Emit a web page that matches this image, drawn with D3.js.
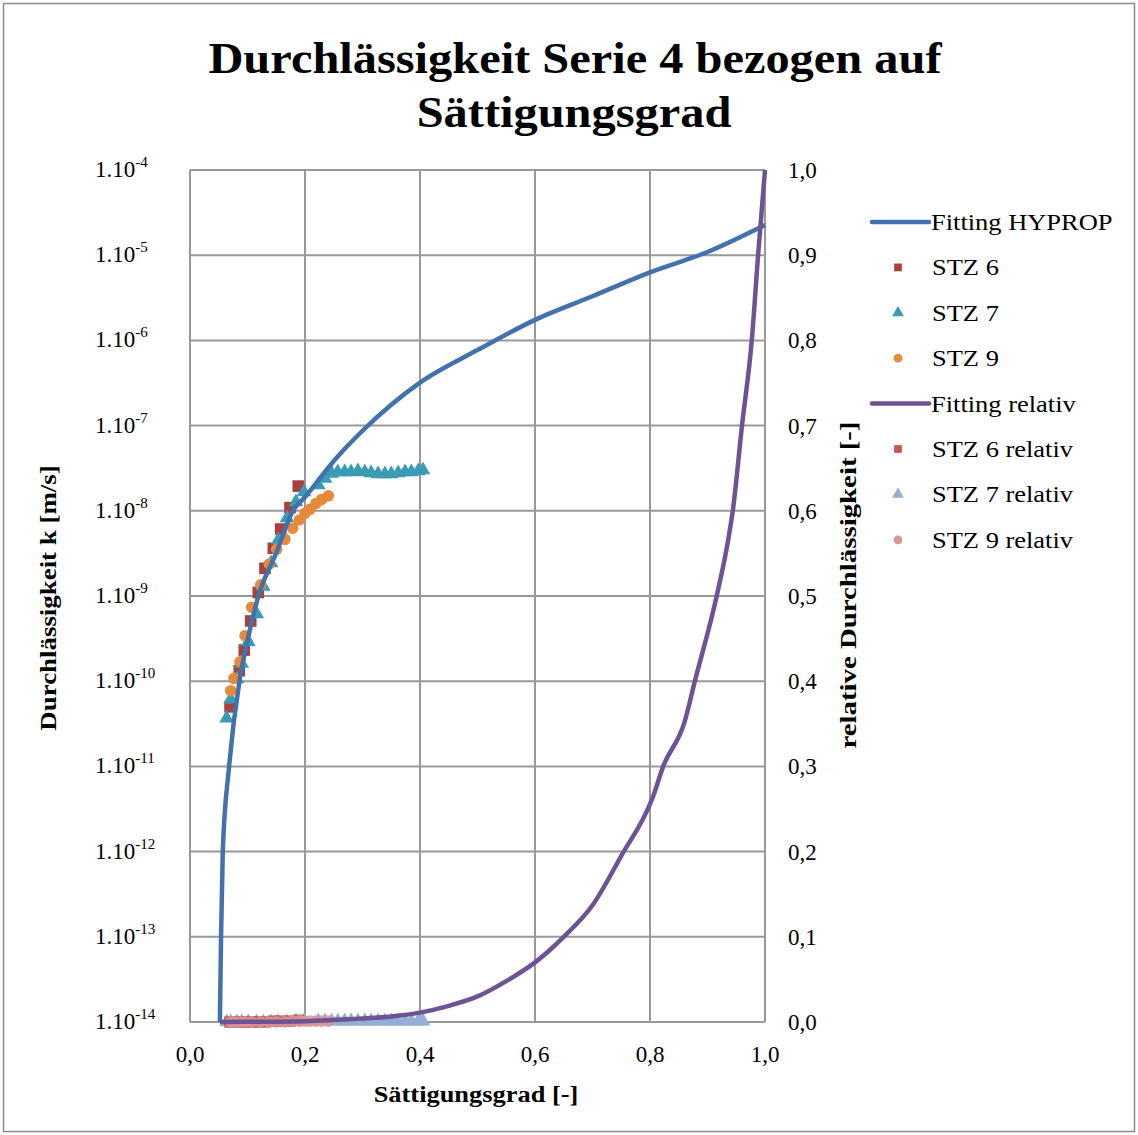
<!DOCTYPE html>
<html>
<head>
<meta charset="utf-8">
<script src="https://cdnjs.cloudflare.com/ajax/libs/d3/7.8.5/d3.min.js"></script>
<style>
  body { margin: 0; background: #fff }
  text { font-family: 'Liberation Serif', 'Times New Roman', serif; fill: #000 }
</style>
</head>
<body>
<svg width="1138" height="1135"></svg>
<script>
// Saettigungsgrad (x) und Durchlaessigkeit k (linke Achse, log)
const hypropS = [0.052, 0.054, 0.057, 0.068, 0.086, 0.1, 0.119, 0.15, 0.179, 0.2, 0.252, 0.3, 0.4, 0.5, 0.6, 0.7, 0.8, 0.9, 1.0]
const hypropK = [1e-14, 1e-13, 1e-12, 1e-11, 1e-10, 3.0e-10, 1e-9, 3.2e-9, 1e-8, 1.45e-8, 3.98e-8, 8.7e-8, 3.2e-7, 7.7e-7, 1.74e-6, 3.3e-6, 6.3e-6, 1.09e-5, 2.26e-5]

const stz6S = [0.0696, 0.0857, 0.0944, 0.1056, 0.1188, 0.1304, 0.1449, 0.1577, 0.1739, 0.1883]
const stz6K = [5.0e-11, 1.33e-10, 2.32e-10, 5.09e-10, 1.10e-9, 2.11e-9, 3.63e-9, 6.11e-9, 1.09e-8, 1.95e-8]

const stz7S = [0.0638, 0.0708, 0.0817, 0.0899, 0.1014, 0.116, 0.1275, 0.1409, 0.1536, 0.1687, 0.1843, 0.1983, 0.2231, 0.2348, 0.2464,
  0.257, 0.269, 0.280, 0.292, 0.304, 0.315, 0.327, 0.339, 0.350, 0.362, 0.374, 0.385, 0.397, 0.405]
const stz7K = [3.67e-11, 6.14e-11, 1.06e-10, 1.62e-10, 2.91e-10, 6.15e-10, 1.29e-9, 2.44e-9, 4.54e-9, 8.22e-9, 1.27e-8, 1.66e-8, 2.01e-8, 2.40e-8, 2.75e-8,
  2.85e-8, 2.85e-8, 2.85e-8, 2.93e-8, 2.85e-8, 2.78e-8, 2.70e-8, 2.70e-8, 2.70e-8, 2.78e-8, 2.85e-8, 2.85e-8, 2.93e-8, 3.01e-8]

const stz9S = [0.0708, 0.0765, 0.0870, 0.0957, 0.1073, 0.1230, 0.1379, 0.1508, 0.1652, 0.1786, 0.1901, 0.2000, 0.2087, 0.2191, 0.2290, 0.2405]
const stz9K = [7.74e-11, 1.08e-10, 1.69e-10, 3.42e-10, 7.36e-10, 1.35e-9, 2.38e-9, 3.53e-9, 4.62e-9, 6.24e-9, 7.80e-9, 9.35e-9, 1.04e-8, 1.22e-8, 1.36e-8, 1.50e-8]

// relative Durchlaessigkeit (rechte Achse)
const relS = [0.052, 0.1, 0.2, 0.3, 0.35, 0.4, 0.45, 0.5, 0.55, 0.6, 0.65, 0.7, 0.75, 0.805, 0.823, 0.86, 0.878, 0.916, 0.936, 0.944, 0.96, 0.977, 0.988, 1.0]
const relK = [0, 0.0002, 0.001, 0.004, 0.0065, 0.011, 0.019, 0.03, 0.048, 0.07, 0.1, 0.137, 0.195, 0.264, 0.3, 0.352, 0.4, 0.5, 0.566, 0.6, 0.7, 0.8, 0.9, 1.0]
const stz6Rel = [0.000, 0.000, 0.000, 0.000, 0.000, 0.000, 0.001, 0.001, 0.001, 0.002]
const stz7Rel = [0.000, 0.000, 0.000, 0.000, 0.000, 0.000, 0.000, 0.000, 0.000, 0.000, 0.001, 0.001, 0.001, 0.001, 0.001,
  0.001, 0.001, 0.001, 0.001, 0.001, 0.001, 0.001, 0.001, 0.001, 0.001, 0.001, 0.001, 0.001, 0.001]
const stz9Rel = [0.000, 0.000, 0.000, 0.000, 0.000, 0.000, 0.000, 0.000, 0.000, 0.001, 0.001, 0.001, 0.001, 0.001, 0.001, 0.001]

const xTicks = [0, 0.2, 0.4, 0.6, 0.8, 1.0]
const yExps = [-4, -5, -6, -7, -8, -9, -10, -11, -12, -13, -14]
const rTicks = [0, 0.1, 0.2, 0.3, 0.4, 0.5, 0.6, 0.7, 0.8, 0.9, 1.0]

const legendNames = ['Fitting HYPROP', 'STZ 6', 'STZ 7', 'STZ 9', 'Fitting relativ', 'STZ 6 relativ', 'STZ 7 relativ', 'STZ 9 relativ']

var col = {
  hyprop: '#4271AC', stz6: '#A8403C', stz7: '#3A9CB4', stz9: '#E5893B',
  rel: '#6B5394', stz6r: '#CB5553', stz7r: '#93AFD8', stz9r: '#DA9596'
}

let svg = d3.select('svg')
let pLeft = 190, pRight = 765, pTop = 170, pBottom = 1022

var x = d3.scaleLinear().domain([0, 1]).range([pLeft, pRight])
var y = d3.scaleLog().domain([1e-14, 1e-4]).range([pBottom, pTop])
var yr = d3.scaleLinear().domain([0, 1]).range([pBottom, pTop])

// breite strecken wie im original (schrift wirkt gedehnt)
function stretch (t, f) {
  var w = t.node().getComputedTextLength()
  t.attr('textLength', w * f).attr('lengthAdjust', 'spacingAndGlyphs')
  return t
}

// rahmen
svg.append('rect').attr('x', 3.5).attr('y', 3.5).attr('width', 1131).attr('height', 1128)
  .attr('fill', 'none').attr('stroke', '#8c8c8c').attr('stroke-width', 1.5)

// gitter
var grid = svg.append('g').attr('stroke', '#999').attr('stroke-width', 2)
grid.selectAll('.gy').data(yExps).enter().append('line')
  .attr('x1', pLeft).attr('x2', pRight)
  .attr('y1', function (d) { return y(Math.pow(10, d)) }).attr('y2', function (d) { return y(Math.pow(10, d)) })
grid.selectAll('.gx').data(xTicks).enter().append('line')
  .attr('y1', pTop).attr('y2', pBottom)
  .attr('x1', function (d) { return x(d) }).attr('x2', function (d) { return x(d) })

// linke achse beschriftung 1.10^n
var yl = svg.append('g').attr('font-size', 23)
yExps.forEach(function (e) {
  var t = yl.append('text').attr('x', 95).attr('y', y(Math.pow(10, e)) + 7)
  t.append('tspan').text('1.10')
  t.append('tspan').attr('font-size', 15).attr('dy', -10).text(String(e))
})

// rechte achse
svg.append('g').attr('font-size', 23).selectAll('text').data(rTicks).enter().append('text')
  .attr('x', 788).attr('y', function (d) { return yr(d) + 8 })
  .text(function (d) { return d3.format('.1f')(d).replace('.', ',') })

// x achse
svg.append('g').attr('font-size', 23).selectAll('text').data(xTicks).enter().append('text')
  .attr('x', function (d) { return x(d) }).attr('y', 1062).attr('text-anchor', 'middle')
  .text(function (d) { return d3.format('.1f')(d).replace('.', ',') })

// titel
var title = svg.append('g').attr('font-size', 44).attr('font-weight', 'bold').attr('text-anchor', 'middle')
stretch(title.append('text').attr('x', 575).attr('y', 73).text('Durchlässigkeit Serie 4 bezogen auf'), 1.1)
stretch(title.append('text').attr('x', 574).attr('y', 127).text('Sättigungsgrad'), 1.1)

stretch(svg.append('text').attr('x', 476).attr('y', 1102).attr('text-anchor', 'middle')
  .attr('font-size', 24).attr('font-weight', 'bold').text('Sättigungsgrad [-]'), 1.1)
stretch(svg.append('text').attr('transform', 'translate(56,598) rotate(-90)').attr('text-anchor', 'middle')
  .attr('font-size', 24).attr('font-weight', 'bold').text('Durchlässigkeit k [m/s]'), 1.12)
stretch(svg.append('text').attr('transform', 'translate(856,585) rotate(-90)').attr('text-anchor', 'middle')
  .attr('font-size', 24).attr('font-weight', 'bold').text('relative Durchlässigkeit [-]'), 1.2)

function pts (s, v) { return s.map(function (d, i) { return [d, v[i]] }) }

var sym = {
  square: d3.symbol().type(d3.symbolSquare).size(135),
  triangle: d3.symbol().type(d3.symbolTriangle).size(95),
  circle: d3.symbol().type(d3.symbolCircle).size(105)
}

function markers (data, ys, shape, color, op) {
  svg.append('g').selectAll('path').data(data).enter().append('path')
    .attr('d', sym[shape])
    .attr('transform', function (d) { return 'translate(' + x(d[0]) + ',' + ys(d[1]) + ')' })
    .attr('fill', color).attr('fill-opacity', op || 1)
}

function curve (data, ys, color) {
  var line = d3.line()
    .x(function (d) { return x(d[0]) })
    .y(function (d) { return ys(d[1]) })
    .curve(d3.curveMonotoneX)
  svg.append('path').datum(data).attr('d', line)
    .attr('fill', 'none').attr('stroke', color).attr('stroke-width', 4.5).attr('stroke-linejoin', 'round')
}

markers(pts(stz6S, stz6K), y, 'square', col.stz6)
markers(pts(stz7S, stz7K), y, 'triangle', col.stz7)
markers(pts(stz9S, stz9K), y, 'circle', col.stz9)
curve(pts(hypropS, hypropK), y, col.hyprop)

markers(pts(stz7S, stz7Rel), yr, 'triangle', col.stz7r)
markers(pts(stz6S, stz6Rel), yr, 'square', col.stz6r, 0.85)
markers(pts(stz9S, stz9Rel), yr, 'circle', col.stz9r, 0.85)
curve(pts(relS, relK), yr, col.rel)

// legende
var legendKind = [['line', col.hyprop], ['square', col.stz6], ['triangle', col.stz7], ['circle', col.stz9],
  ['line', col.rel], ['square', col.stz6r], ['triangle', col.stz7r], ['circle', col.stz9r]]
var lg = svg.append('g')
legendNames.forEach(function (name, i) {
  var ly = 222 + i * 45.4
  var k = legendKind[i]
  if (k[0] === 'line') {
    lg.append('line').attr('x1', 872).attr('x2', 929).attr('y1', ly).attr('y2', ly)
      .attr('stroke', k[1]).attr('stroke-width', 4.5).attr('stroke-linecap', 'round')
  } else {
    lg.append('path').attr('d', d3.symbol().type(k[0] === 'square' ? d3.symbolSquare : k[0] === 'triangle' ? d3.symbolTriangle : d3.symbolCircle).size(60))
      .attr('transform', 'translate(898,' + ly + ')').attr('fill', k[1])
  }
  stretch(lg.append('text').attr('x', k[0] === 'line' ? 931 : 932).attr('y', ly + 8).attr('font-size', 23).text(name), 1.15)
})
</script>
</body>
</html>
